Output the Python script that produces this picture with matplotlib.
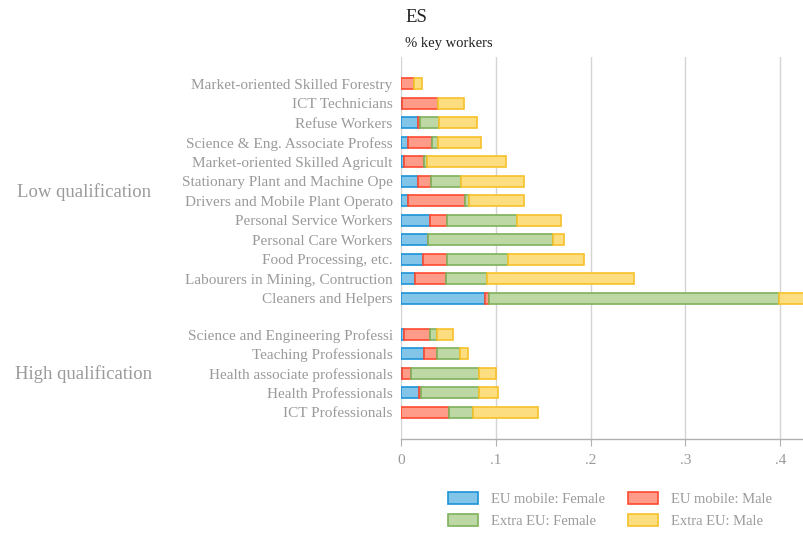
import matplotlib
matplotlib.use("Agg")
import matplotlib.pyplot as plt
from matplotlib.patches import Patch
import numpy as np

plt.rcParams["font.family"] = ["Liberation Serif", "DejaVu Serif"]

# ---------------------------------------------------------------------------
# Data (shares of key workers)
# ---------------------------------------------------------------------------
low_labels = [
    "Market-oriented Skilled Forestry",
    "ICT Technicians",
    "Refuse Workers",
    "Science & Eng. Associate Profess",
    "Market-oriented Skilled Agricult",
    "Stationary Plant and Machine Ope",
    "Drivers and Mobile Plant Operato",
    "Personal Service Workers",
    "Personal Care Workers",
    "Food Processing, etc.",
    "Labourers in Mining, Contruction",
    "Cleaners and Helpers",
]
low_eu_f = [0.000, 0.0015, 0.0176, 0.007, 0.003, 0.018, 0.007, 0.031, 0.028, 0.023, 0.015, 0.089]
low_eu_m = [0.014, 0.037, 0.002, 0.026, 0.021, 0.0134, 0.060, 0.0176, 0.000, 0.026, 0.032, 0.0035]
low_ex_f = [0.000, 0.001, 0.021, 0.006, 0.0035, 0.032, 0.005, 0.074, 0.132, 0.064, 0.044, 0.306]
low_ex_m = [0.008, 0.027, 0.040, 0.045, 0.083, 0.066, 0.058, 0.046, 0.012, 0.080, 0.155, 0.045]

high_labels = [
    "Science and Engineering Professi",
    "Teaching Professionals",
    "Health associate professionals",
    "Health Professionals",
    "ICT Professionals",
]
high_eu_f = [0.003, 0.024, 0.001, 0.019, 0.000]
high_eu_m = [0.028, 0.014, 0.010, 0.002, 0.051]
high_ex_f = [0.007, 0.024, 0.071, 0.061, 0.025]
high_ex_m = [0.017, 0.009, 0.018, 0.020, 0.068]

series_names = ["EU mobile: Female", "EU mobile: Male", "Extra EU: Female", "Extra EU: Male"]
fills = ["#82c5e9", "#ff9c89", "#bdd8a4", "#fcdd80"]
edges = ["#1c93d8", "#ff4a30", "#7fb15c", "#f7c12a"]

GRAY = "#9a9a9a"

# ---------------------------------------------------------------------------
# Layout of rows: high group at bottom, low group above with a gap
# ---------------------------------------------------------------------------
n_high = len(high_labels)
n_low = len(low_labels)
gap = 1.85
high_y = np.arange(n_high)[::-1].astype(float)               # Sci&Eng top -> 4
low_y = (n_high - 1) + gap + np.arange(n_low)[::-1]          # Forestry top

labels = low_labels + high_labels
ypos = np.concatenate([low_y, high_y])
stack = np.array([
    low_eu_f + high_eu_f,
    low_eu_m + high_eu_m,
    low_ex_f + high_ex_f,
    low_ex_m + high_ex_m,
])

fig = plt.figure(figsize=(8.04, 5.35), dpi=100)
ax = fig.add_axes([401 / 804, 1 - 439 / 535, 1 - 401 / 804, (439 - 57) / 535])

left = np.zeros(len(labels))
for i in range(4):
    ax.barh(ypos, stack[i], left=left, height=0.57, color=fills[i],
            edgecolor=edges[i], linewidth=1.2, zorder=3)
    left += stack[i]

ax.set_xlim(0, 0.425)
ax.set_ylim(-1.38, low_y[0] + 1.38)
ax.set_yticks(ypos)
ax.set_yticklabels(labels, fontsize=11, color=GRAY)
ax.tick_params(axis="y", length=0, pad=6)

ax.set_xticks([0, 0.1, 0.2, 0.3, 0.4])
ax.set_xticklabels(["0", ".1", ".2", ".3", ".4"], fontsize=11, color=GRAY)
ax.tick_params(axis="x", length=5, color="#b0b0b0", pad=6)

ax.grid(axis="x", color="#d4d4d4", linewidth=1.0, zorder=0)
for s in ["left", "right", "top"]:
    ax.spines[s].set_visible(False)
ax.spines["bottom"].set_color("#b0b0b0")
ax.spines["bottom"].set_linewidth(1.0)

# group labels
fig.text(84 / 804, 1 - 192 / 535, "Low qualification", fontsize=13.5,
         color=GRAY, ha="center", va="center")
fig.text(84 / 804, 1 - 374 / 535, "High qualification", fontsize=13.5,
         color=GRAY, ha="center", va="center")

# titles
fig.text(405 / 804, 1 - 17 / 535, "ES", fontsize=13.5, color="#222222",
         ha="left", va="center")
fig.text(405 / 804, 1 - 43 / 535, "% key workers", fontsize=10.5,
         color="#222222", ha="left", va="center")

handles = [Patch(facecolor=fills[i], edgecolor=edges[i], linewidth=1.2)
           for i in range(4)]
order = [0, 2, 1, 3]
fig.legend([handles[i] for i in order], [series_names[i] for i in order],
           ncol=2, loc="center left", bbox_to_anchor=(435 / 804, 1 - 510 / 535),
           frameon=False, fontsize=10.5, labelcolor=GRAY,
           handlelength=2.05, handleheight=0.85, columnspacing=1.6,
           handletextpad=0.9, labelspacing=0.55)

fig.savefig("out.png", dpi=100)
